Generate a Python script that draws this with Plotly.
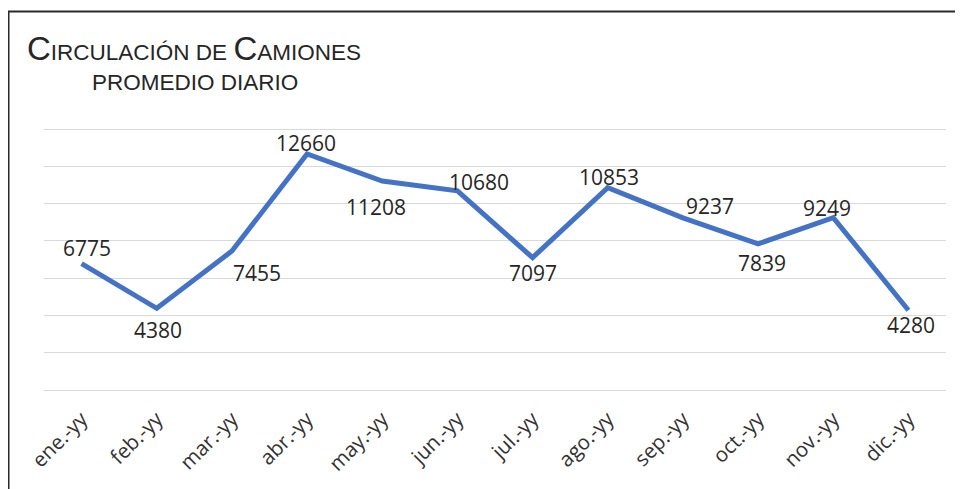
import plotly.graph_objects as go

months = ["ene.-yy", "feb.-yy", "mar.-yy", "abr.-yy", "may.-yy", "jun.-yy",
          "jul.-yy", "ago.-yy", "sep.-yy", "oct.-yy", "nov.-yy", "dic.-yy"]
values = [6775, 4380, 7455, 12660, 11208, 10680, 7097, 10853, 9237, 7839, 9249, 4280]

# label pixel offsets (style)
label_dx = [5, 1, 25, -1, -6, 22, 0, 1, 27, 4, -6, 3]
label_dy = [16, -22, -22, 11, -26, 9, -15, 11, 12, -19, 10, -15]

# page body has an 8px margin; the figure is sized to fit the window
W, H = 955, 481
ML, MR, MT, MB = 36, 17, 119, 97
pw = W - ML - MR
ph = H - MT - MB
pad = 107.3  # keeps the 0 and 14000 gridlines just inside the plot area

def px(x):
    return (x - ML) / pw

def py(y):
    return (H - MB - y) / ph

fig = go.Figure()
fig.add_trace(go.Scatter(x=months, y=values, mode="lines",
                         line=dict(color="#4472C4", width=5),
                         hoverinfo="x+y", showlegend=False))

for m, v, dx, dy in zip(months, values, label_dx, label_dy):
    fig.add_annotation(x=m, y=v, text=str(v), showarrow=False,
                       xshift=dx, yshift=dy,
                       font=dict(family="Open Sans", size=21, color="#262626"))

# title
fig.add_annotation(xref="paper", yref="paper", x=px(17), y=py(40.5),
                   xanchor="left", yanchor="middle", showarrow=False,
                   text="<span style='font-size:33px'>C</span>IRCULACIÓN DE <span style='font-size:33px'>C</span>AMIONES",
                   font=dict(family="Liberation Sans", size=22.5, color="#262626"))
fig.add_annotation(xref="paper", yref="paper", x=px(82), y=py(74),
                   xanchor="left", yanchor="middle", showarrow=False,
                   text="PROMEDIO DIARIO",
                   font=dict(family="Liberation Sans", size=22.5, color="#262626"))

# border
fig.add_shape(type="line", xref="paper", yref="paper",
              x0=px(0.5), x1=px(0.5), y0=py(3.5), y1=py(520),
              line=dict(color="#2b2b2b", width=2))
fig.add_shape(type="line", xref="paper", yref="paper",
              x0=px(0), x1=px(1000), y0=py(3.5), y1=py(3.5),
              line=dict(color="#2b2b2b", width=2))

fig.update_layout(
    width=W, height=H,
    margin=dict(l=ML, r=MR, t=MT, b=MB, autoexpand=False),
    paper_bgcolor="white", plot_bgcolor="white",
    xaxis=dict(tickangle=-45, showline=False, showgrid=False, ticks="",
               ticklabelstandoff=10,
               tickfont=dict(family="Open Sans", size=20.5, color="#333333"),
               range=[-0.5, 11.5], fixedrange=True, automargin=False),
    yaxis=dict(range=[-pad, 14000 + pad], tick0=0, dtick=2000, showticklabels=False,
               showgrid=True, gridcolor="#d9d9d9", gridwidth=1,
               zeroline=False, showline=False, fixedrange=True, automargin=False),
)

fig.write_html("out.html")
